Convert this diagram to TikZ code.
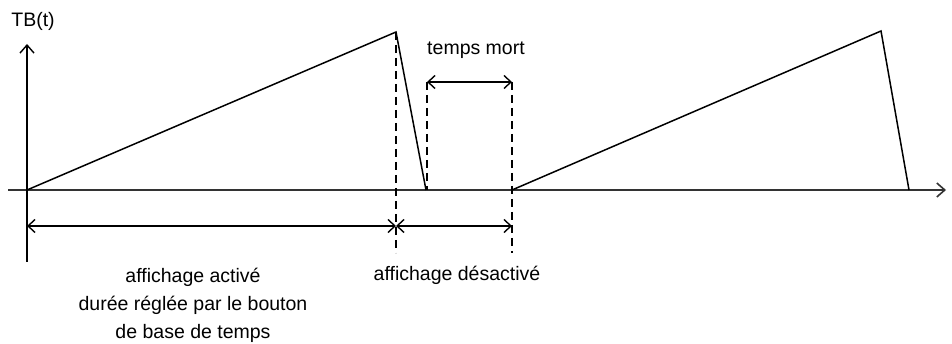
\documentclass[tikz,border=0pt]{standalone}
\usepackage{fontspec}
\setmainfont{Liberation Sans}
\usetikzlibrary{arrows.meta}
\tikzset{
  axis/.style={line width=1.6pt, draw=black!80},
  curve/.style={line width=1.5pt},
  guide/.style={line width=1.4pt, dash pattern=on 8pt off 5pt},
  span/.style={line width=1.4pt, {Straight Barb[length=7pt,width=13pt]}-{Straight Barb[length=7pt,width=13pt]}},
  txt/.style={inner sep=0pt, anchor=base, font=\fontsize{19.5}{28}\selectfont}
}
\begin{document}
\begin{tikzpicture}[x=1pt,y=-1pt]
\useasboundingbox[fill=white] (0,0) rectangle (952,344);
% key points
\coordinate (O) at (27,190);
\coordinate (Ybot) at (27,262);
\coordinate (Ytop) at (27,44);
\coordinate (Xl) at (8,190);
\coordinate (Xr) at (946,190);
\coordinate (P1) at (396,32);
\coordinate (E1) at (426,190);
\coordinate (S2) at (512,190);
\coordinate (P2) at (881,31);
\coordinate (E2) at (909,190);
\coordinate (G1b) at (396,253);
\coordinate (G2t) at (427,82);
\coordinate (G2b) at (427,190);
\coordinate (G3t) at (512,82);
\coordinate (G3b) at (512,253);
\coordinate (A0) at (27,226);
\coordinate (A1) at (396,226);
\coordinate (A2) at (512,226);
% axes
\draw[axis, -{Straight Barb[length=8pt,width=14pt]}] (Xl) -- (Xr);
\draw[line width=1.4pt, -{Straight Barb[length=8pt,width=14pt]}] (Ybot) -- (Ytop);
% signal
\draw[curve] (O) -- (P1) -- (E1);
\draw[curve] (S2) -- (P2) -- (E2);
% guides
\draw[guide] (P1) -- (G1b);
\draw[guide] (G2t) -- (G2b);
\draw[guide] (G3t) -- (G3b);
% spans
\draw[span] (G2t) -- (G3t);
\draw[span] (A0) -- (A1);
\draw[span] (A1) -- (A2);
% texts
\node[txt] (tb) at (33,27) {TB(t)};
\node[txt] (tm) at (476,55) {temps mort};
\node[txt, align=center] (act) at (193,338) {affichage activé\\durée réglée par le bouton\\de base de temps};
\node[txt] (des) at (457,281) {affichage désactivé};
\end{tikzpicture}
\end{document}
